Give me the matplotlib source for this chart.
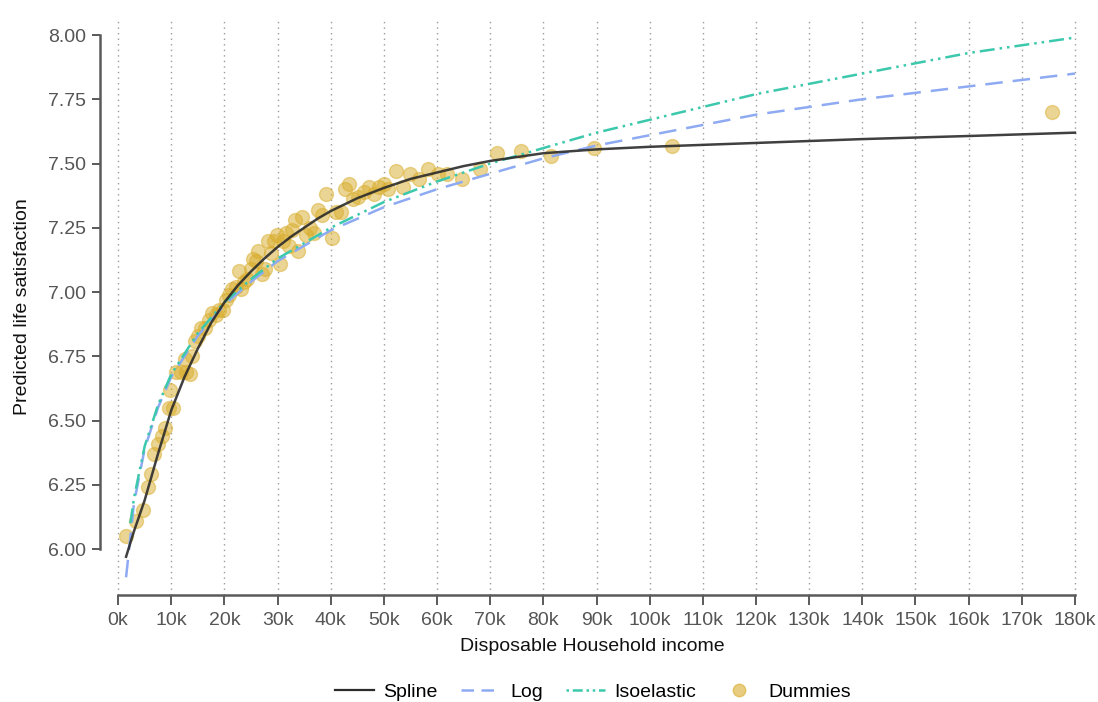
import numpy as np
import matplotlib.pyplot as plt
from matplotlib.lines import Line2D

# Data (income in thousands)
dummy_x = [1.5, 3.4, 4.7, 5.6, 6.2, 6.8, 7.5, 8.3, 8.8, 9.6, 10.3, 9.8, 10.9, 11.8, 12.8,
           13.5, 12.6, 13.9, 14.5, 15.0, 15.6, 16.4, 17.1, 17.7, 18.4, 19.0, 19.7, 20.3,
           20.9, 21.4, 22.2, 22.8, 23.1, 23.7, 24.3, 25.0, 25.4, 26.0, 26.3, 27.1, 27.6,
           28.2, 28.8, 29.3, 29.9, 30.5, 31.0, 31.6, 32.2, 32.7, 33.3, 33.9, 34.6, 35.4,
           36.1, 36.9, 37.6, 38.4, 39.1, 40.2, 41.0, 41.9, 42.7, 43.4, 44.2, 45.1, 46.3,
           47.2, 48.1, 49.1, 50.0, 50.8, 52.3, 53.6, 54.9, 56.6, 58.3, 60.2, 61.9, 64.7,
           68.1, 71.3, 75.8, 81.4, 89.5, 104.2, 175.7]
dummy_y = [6.05, 6.11, 6.15, 6.24, 6.29, 6.37, 6.41, 6.44, 6.47, 6.55, 6.55, 6.62, 6.69, 6.69, 6.69,
           6.68, 6.74, 6.75, 6.81, 6.83, 6.86, 6.86, 6.89, 6.92, 6.91, 6.93, 6.93, 6.97,
           6.99, 7.01, 7.02, 7.08, 7.01, 7.04, 7.05, 7.09, 7.13, 7.12, 7.16, 7.07, 7.09,
           7.20, 7.15, 7.20, 7.22, 7.11, 7.20, 7.23, 7.18, 7.24, 7.28, 7.16, 7.29, 7.22,
           7.25, 7.23, 7.32, 7.30, 7.38, 7.21, 7.31, 7.31, 7.40, 7.42, 7.36, 7.37, 7.39,
           7.41, 7.38, 7.41, 7.42, 7.40, 7.47, 7.41, 7.46, 7.44, 7.48, 7.46, 7.46, 7.44,
           7.48, 7.54, 7.55, 7.53, 7.56, 7.57, 7.70]

spline_x = [1.5, 3, 5, 7.5, 10, 12.5, 15, 17.5, 20, 22.5, 25, 27.5, 30, 32.5, 35, 37.5, 40,
            45, 50, 55, 60, 65, 70, 80, 90, 100, 120, 140, 160, 180]
spline_y = [5.97, 6.07, 6.19, 6.37, 6.54, 6.67, 6.78, 6.88, 6.96, 7.025, 7.08, 7.13, 7.175,
            7.215, 7.25, 7.285, 7.315, 7.365, 7.405, 7.44, 7.465, 7.49, 7.51, 7.54, 7.555,
            7.565, 7.58, 7.595, 7.607, 7.62]

log_x = [1.5, 3, 5, 7.5, 10, 15, 20, 25, 30, 40, 50, 60, 70, 80, 90, 100, 120, 140, 160, 180]
log_y = [5.89, 6.18, 6.39, 6.55, 6.67, 6.83, 6.95, 7.04, 7.12, 7.24, 7.33, 7.40, 7.46,
         7.52, 7.57, 7.61, 7.69, 7.75, 7.80, 7.85]

iso_x = [2.3, 3, 5, 7.5, 10, 15, 20, 25, 30, 40, 50, 60, 70, 80, 90, 100, 120, 140, 160, 180]
iso_y = [6.10, 6.20, 6.40, 6.56, 6.68, 6.84, 6.96, 7.05, 7.13, 7.25, 7.35, 7.43, 7.50,
         7.56, 7.62, 7.67, 7.77, 7.85, 7.93, 7.99]

x_ticks = list(range(0, 181, 10))
x_labels = [f'{t}k' for t in x_ticks]
y_ticks = [6.00, 6.25, 6.50, 6.75, 7.00, 7.25, 7.50, 7.75, 8.00]

plt.rcParams['font.family'] = ['Liberation Sans', 'DejaVu Sans']

fig = plt.figure(figsize=(10.98, 7.02), dpi=100)
ax = fig.add_axes([0.0911, 0.1524, 0.8976, 0.8219])

axis_col = '#5a5a5a'
c_spline = '#2b2b2b'
c_log = '#8eaaf2'
c_iso = '#3cc8ac'
c_dot = '#d9ad2b'

for t in x_ticks:
    ax.axvline(t, color='#9a9a9a', linestyle=(0, (1, 3)), linewidth=1.0, zorder=0)

ax.scatter(dummy_x, dummy_y, s=100, color=c_dot, alpha=0.5, edgecolors=c_dot,
           linewidths=1.0, zorder=2)
ax.plot(log_x, log_y, color=c_log, linewidth=1.8, linestyle=(0, (7, 4)), zorder=3)
ax.plot(iso_x, iso_y, color=c_iso, linewidth=1.8, linestyle=(0, (6, 2, 1, 2, 1, 2)), zorder=3)
ax.plot(spline_x, spline_y, color=c_spline, linewidth=1.8, alpha=0.9, zorder=4)

ax.set_xlim(-3.4, 182)
ax.set_ylim(5.821, 8.066)

for s in ['top', 'right']:
    ax.spines[s].set_visible(False)
ax.spines['left'].set_bounds(6.0, 8.0)
ax.spines['bottom'].set_bounds(0, 180)
for s in ['left', 'bottom']:
    ax.spines[s].set_color(axis_col)
    ax.spines[s].set_linewidth(1.8)

ax.set_xticks(x_ticks)
ax.set_xticklabels(x_labels)
ax.set_yticks(y_ticks)
ax.set_yticklabels([f'{v:.2f}' for v in y_ticks])
ax.tick_params(axis='both', direction='out', length=7, width=1.4, color=axis_col,
               labelcolor='#555555', labelsize=14)
ax.tick_params(axis='x', pad=5)
ax.tick_params(axis='y', length=6, pad=4)

ax.set_xlabel('Disposable Household income', fontsize=14, color='#111111', labelpad=7)
ax.set_ylabel('Predicted life satisfaction', fontsize=14, color='#111111', labelpad=12)

handles = [
    Line2D([], [], color=c_spline, linewidth=1.6),
    Line2D([], [], color=c_log, linewidth=1.8, linestyle=(0, (5, 3))),
    Line2D([], [], color=c_iso, linewidth=1.8, linestyle=(0, (1, 1.5, 4, 1.5, 1, 1.5))),
    Line2D([], [], marker='o', linestyle='none', markersize=9, color=c_dot, alpha=0.6),
]
fig.legend(handles, ['Spline', 'Log', 'Isoelastic', 'Dummies'], loc='center',
           bbox_to_anchor=(0.540, 0.014), ncol=4, frameon=False, fontsize=14,
           handlelength=2.0, columnspacing=1.2, handletextpad=0.5)

fig.savefig('out.png', dpi=100)
